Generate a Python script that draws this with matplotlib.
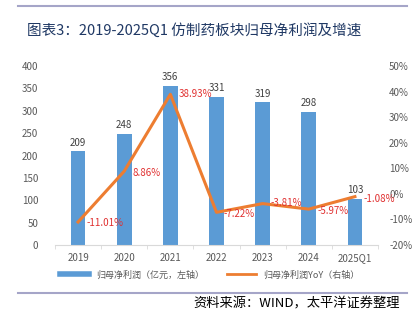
import matplotlib
matplotlib.use("Agg")
import matplotlib.pyplot as plt
from matplotlib.lines import Line2D

plt.rcParams['font.family'] = ['Noto Sans CJK SC', 'DejaVu Sans']

years = ['2019', '2020', '2021', '2022', '2023', '2024', '2025Q1']
profit = [209, 248, 356, 331, 319, 298, 103]
yoy = [-11.01, 8.86, 38.93, -7.22, -3.81, -5.97, -1.08]

bar_c = '#5B9BD5'
line_c = '#ED7D31'
grey = '#595959'

fig = plt.figure(figsize=(4.2, 3.21), dpi=100)
ax = fig.add_axes([55 / 420, 1 - 245 / 321, 323 / 420, 179 / 321])
ax2 = ax.twinx()

x = list(range(len(years)))
ax.bar(x, profit, width=0.32, color=bar_c, zorder=2)
for xi, v in zip(x, profit):
    ax.text(xi, v + 8, str(v), ha='center', va='bottom', fontsize=7, color='#404040')

ax.set_ylim(0, 400)
ax.set_yticks(range(0, 401, 50))
ax.set_xlim(-0.5, len(years) - 0.5)
ax.set_xticks(x)
ax.set_xticklabels(years)
ax.set_xticks([i + 0.5 for i in range(-1, len(years))], minor=True)
ax.tick_params(axis='x', which='major', length=0, pad=6, labelsize=7, labelcolor=grey)
ax.tick_params(axis='x', which='minor', length=3, color='#d9d9d9')
ax.tick_params(axis='y', length=0, labelsize=7, labelcolor=grey, pad=12)

ax2.plot(x, yoy, color=line_c, lw=2.2, zorder=3)
ax2.set_ylim(-20, 50)
ax2.set_yticks(range(-20, 51, 10))
ax2.set_yticklabels([f'{t}%' for t in range(-20, 51, 10)])
ax2.tick_params(axis='y', length=0, labelsize=7, labelcolor=grey, pad=8)
offs = [(6, -1), (6, -1), (6, 0), (5, -1), (6, 0.5), (6, -1), (6, -1.5)]
for xi, v, (dx, dy) in zip(x, yoy, offs):
    ax2.annotate(f'{v:.2f}%', (xi, v), xytext=(dx, dy), textcoords='offset points',
                 ha='left', va='center', fontsize=7, color='#E03030', zorder=4)

for a in (ax, ax2):
    for s in ('top', 'left', 'right'):
        a.spines[s].set_visible(False)
ax.spines['bottom'].set_color('#d9d9d9')
ax2.spines['bottom'].set_visible(False)

handles = [Line2D([], [], color=bar_c, lw=4), Line2D([], [], color=line_c, lw=2)]
fig.legend(handles, ['归母净利润（亿元，左轴）', '归母净利润YoY（右轴）'],
           loc='center', bbox_to_anchor=(0.5, 1 - 275 / 321), ncol=2, frameon=False,
           fontsize=6.5, labelcolor=grey, handlelength=3.2, columnspacing=2.5)

fig.add_artist(Line2D([18 / 420, 407 / 420], [1 - 6 / 321] * 2, color='#A5A5C8', lw=1.5))
fig.add_artist(Line2D([18 / 420, 407 / 420], [1 - 293 / 321] * 2, color='#A5A5C8', lw=1.5))
fig.text(27 / 420, 1 - 30 / 321, '图表3：2019-2025Q1 仿制药板块归母净利润及增速',
         fontsize=10.5, color='#1F3864', va='center', ha='left')
fig.text(400 / 420, 1 - 304 / 321, '资料来源：WIND，太平洋证券整理',
         fontsize=9.5, style='italic', color='#000000', va='center', ha='right')

fig.savefig('out.png', dpi=100)
